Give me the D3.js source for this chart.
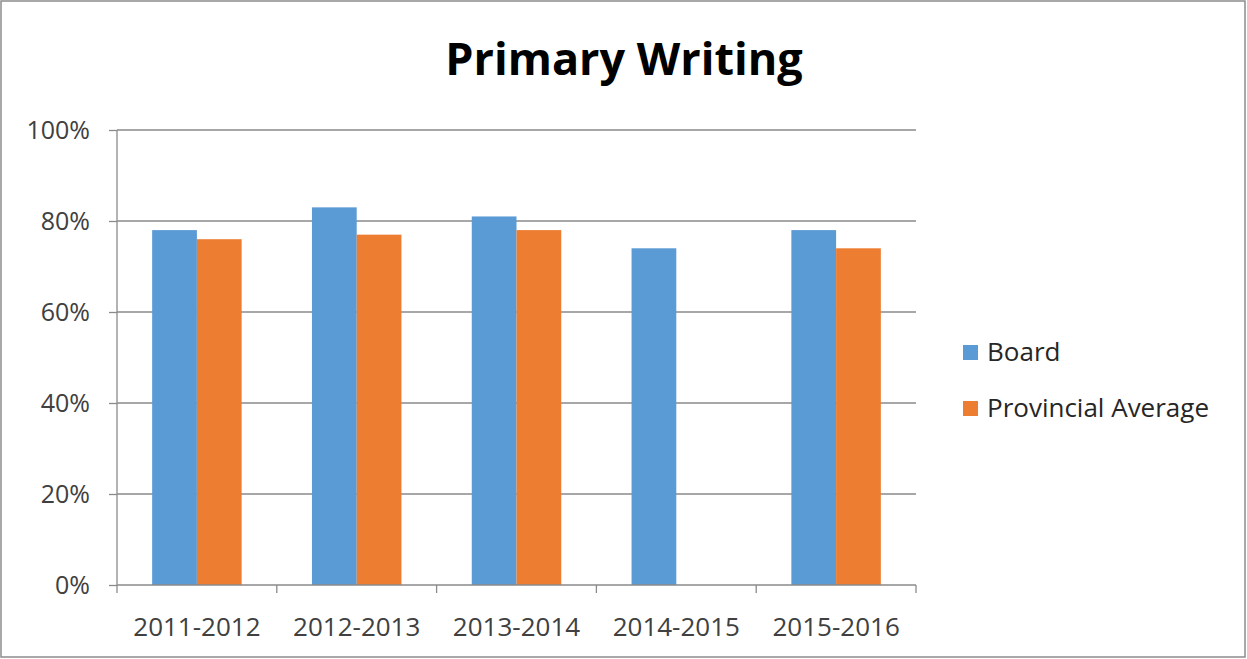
<!DOCTYPE html>
<html><head><meta charset="utf-8">
<script src="https://cdn.jsdelivr.net/npm/d3@7"></script>
<style>body{margin:0;background:#fff}svg{display:block}</style>
</head><body>
<script>
const categories = ["2011-2012","2012-2013","2013-2014","2014-2015","2015-2016"];
const seriesNames = ["Board","Provincial Average"];
const board = [0.78,0.83,0.81,0.74,0.78];
const provincial = [0.76,0.77,0.78,null,0.74];
const yTicks = [0,0.2,0.4,0.6,0.8,1.0];
const colors = ["#5B9BD5","#ED7D31"];
const title = "Primary Writing";

const W=1247,H=659;
const FONT="'Open Sans',sans-serif";
const svg=d3.select("body").append("svg").attr("width",W).attr("height",H);
svg.append("rect").attr("x",1).attr("y",1).attr("width",W-3).attr("height",H-3)
  .attr("fill","#fff").attr("stroke","#8c8c8c").attr("stroke-width",1.5);

const m={left:117,right:916,top:130,bottom:585};
const x=d3.scaleBand().domain(categories).range([m.left,m.right]).paddingInner(0.44).paddingOuter(0.22);
const x1=d3.scaleBand().domain(seriesNames).range([0,x.bandwidth()]);
const y=d3.scaleLinear().domain([0,1]).range([m.bottom,m.top]);

// gridlines
svg.append("g").selectAll("line").data(yTicks.filter(d=>d>0)).join("line")
  .attr("x1",m.left).attr("x2",m.right).attr("y1",d=>y(d)).attr("y2",d=>y(d))
  .attr("stroke","#8a8a8a").attr("stroke-width",1.3);

const data=categories.map((c,i)=>({c,vals:[board[i],provincial[i]]}));
const g=svg.append("g");
data.forEach(d=>{
  d.vals.forEach((v,j)=>{
    if(v==null) return;
    g.append("rect").attr("x",x(d.c)+x1(seriesNames[j])).attr("width",x1.bandwidth())
      .attr("y",y(v)).attr("height",y(0)-y(v)).attr("fill",colors[j]);
  });
});

// y axis
const ya=svg.append("g").attr("transform",`translate(${m.left},0)`)
  .call(d3.axisLeft(y).tickValues(yTicks).tickFormat(d3.format(".0%")).tickSize(8).tickPadding(19));
ya.select(".domain").attr("stroke","#8a8a8a").attr("stroke-width",1.3).attr("d",`M0,${m.top}V${m.bottom}`);
ya.selectAll(".tick line").attr("stroke","#8a8a8a").attr("stroke-width",1.3);
ya.selectAll(".tick text").attr("fill","#404040").style("font-family",FONT).style("font-size","25px");

// x axis
const xa=svg.append("g").attr("transform",`translate(0,${m.bottom})`)
  .call(d3.axisBottom(x).tickSize(0).tickPadding(33));
xa.select(".domain").attr("stroke","#8a8a8a").attr("stroke-width",1.3).attr("d",`M${m.left},0H${m.right}`);
xa.selectAll(".tick text").attr("fill","#404040").style("font-family",FONT).style("font-size","26px");
const bounds=d3.range(categories.length+1).map(i=>m.left+i*(m.right-m.left)/categories.length);
xa.selectAll(".bnd").data(bounds).join("line").attr("class","bnd")
  .attr("x1",d=>d).attr("x2",d=>d).attr("y1",0).attr("y2",8).attr("stroke","#8a8a8a").attr("stroke-width",1.3);

// title
svg.append("text").attr("x",624).attr("y",75).attr("text-anchor","middle")
  .style("font-family",FONT).style("font-weight","700").style("font-size","45px")
  .attr("fill","#000").text(title);

// legend
const lg=svg.append("g");
seriesNames.forEach((n,i)=>{
  const yy=352+i*56;
  lg.append("rect").attr("x",963).attr("y",yy-7).attr("width",15).attr("height",15).attr("fill",colors[i]);
  lg.append("text").attr("x",987).attr("y",yy).attr("dy","0.35em")
    .style("font-family",FONT).style("font-size","26px").attr("fill","#262626").text(n);
});
</script>
</body></html>
